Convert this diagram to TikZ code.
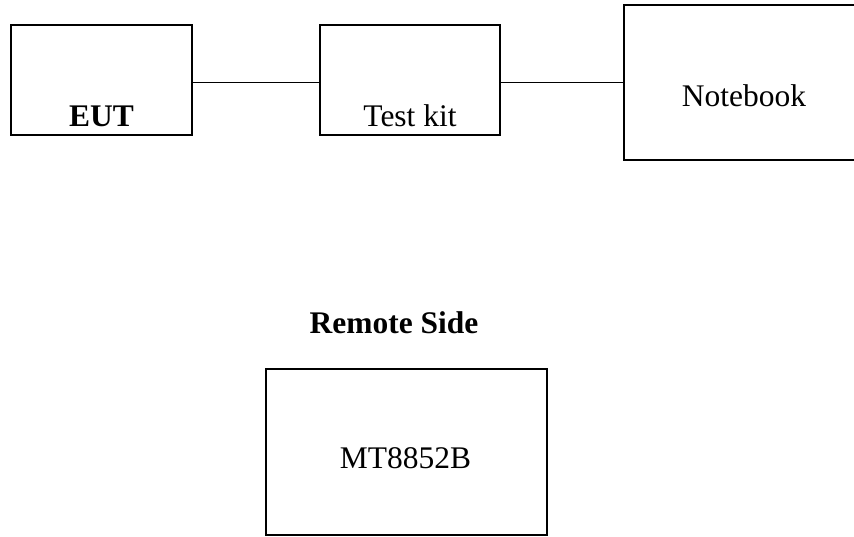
\documentclass[tikz,border=0pt]{standalone}
\usepackage{fontspec}
\setmainfont{Liberation Serif}
\usepackage{tikz}
\usetikzlibrary{positioning, calc}

\begin{document}
\begin{tikzpicture}[
    x=0.75pt, y=-0.75pt,
    unit/.style={draw=black, line width=1.5pt, inner sep=0pt},
    link/.style={line width=1.25pt, black},
    lbl/.style={font=\fontsize{23.6}{28}\selectfont, anchor=base, inner sep=0pt},
]
\useasboundingbox (0,0) rectangle (854,536);

% ============ Local side ============
\node[unit, minimum width=135.75pt, minimum height=82.5pt] (eut) at (101.5,80) {};
\node[unit, minimum width=135pt, minimum height=82.5pt] (kit) at (410,80) {};
\node[unit, minimum width=180pt, minimum height=116.25pt] (nb) at (744,82.5) {};

\node[lbl, font=\fontsize{23.6}{28}\selectfont\bfseries] (euttxt) at (101.5,126) {EUT};
\node[lbl] (kittxt) at (410,126) {Test kit};
\node[lbl] (nbtxt) at (744,106) {Notebook};

% cables
\draw[link] (eut.east |- nb.west) -- (kit.west |- nb.west);
\draw[link] (kit.east |- nb.west) -- (nb.west);

% ============ Remote side ============
\node[lbl, font=\fontsize{23.6}{28}\selectfont\bfseries] (remote) at (394,333) {Remote Side};
\node[unit, minimum width=210.75pt, minimum height=124.5pt] (mt) at (406.5,452) {};
\node[lbl] (mttxt) at (405.5,468) {MT8852B};

\end{tikzpicture}
\end{document}
